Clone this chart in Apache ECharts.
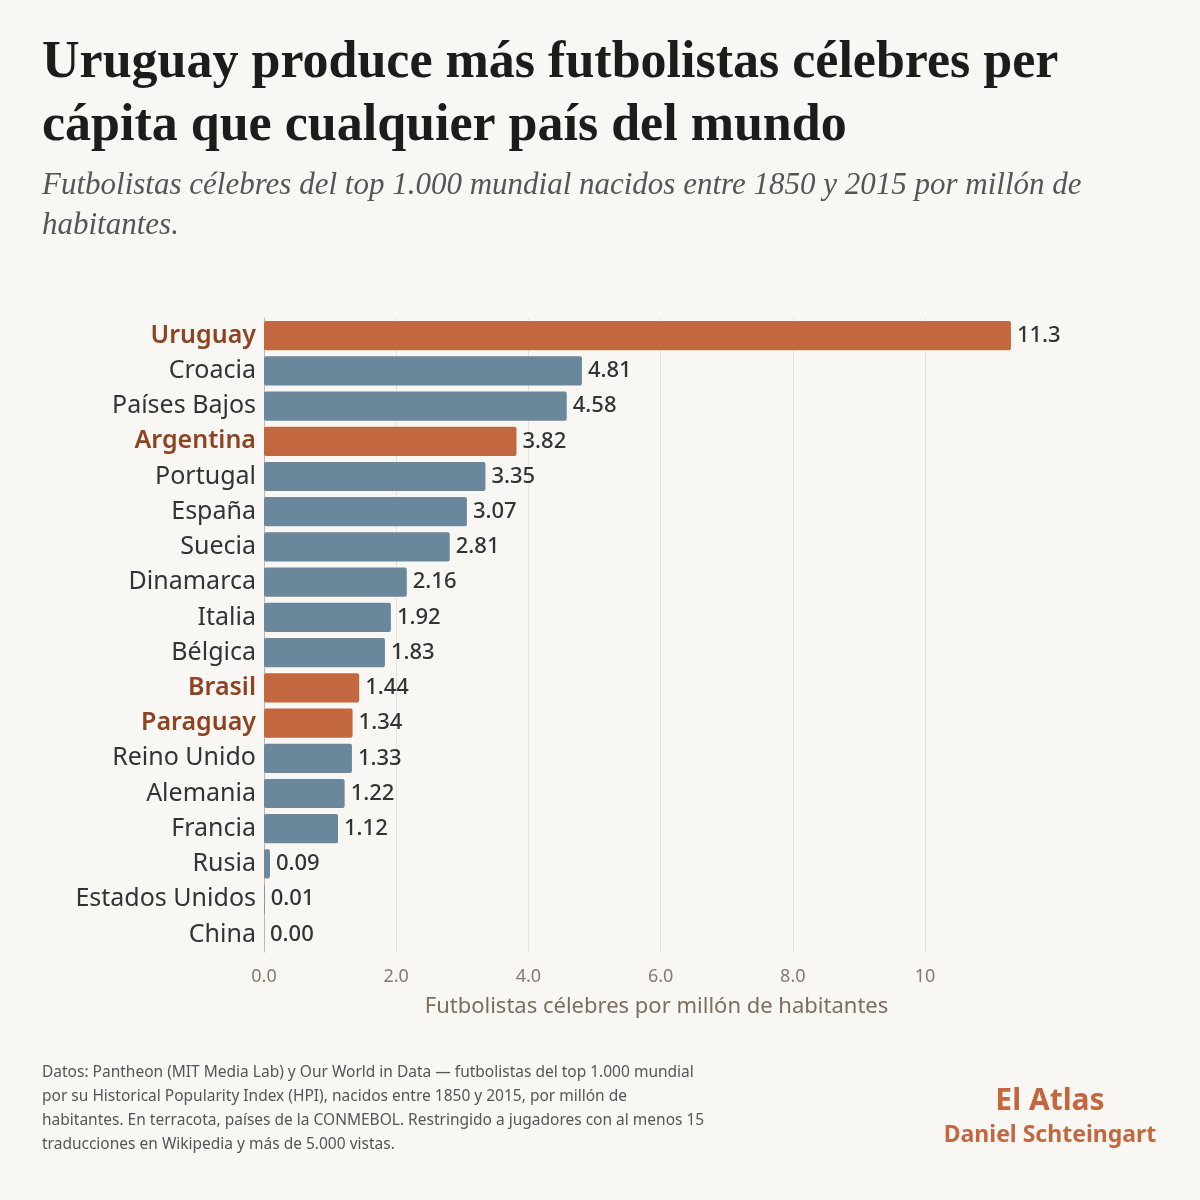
<!DOCTYPE html>
<html>
<head>
<meta charset="utf-8">
<script src="https://cdn.jsdelivr.net/npm/echarts@6/dist/echarts.min.js"></script>
<style>
  html, body { margin: 0; padding: 0; background: #f9f7f3; }
  #main { width: 1200px; height: 1200px; }
</style>
</head>
<body>
<div id="main"></div>
<script>
var countries = ['Uruguay', 'Croacia', 'Países Bajos', 'Argentina', 'Portugal', 'España', 'Suecia', 'Dinamarca', 'Italia',
    'Bélgica', 'Brasil', 'Paraguay', 'Reino Unido', 'Alemania', 'Francia', 'Rusia', 'Estados Unidos', 'China'];
var values = [11.3, 4.81, 4.58, 3.82, 3.35, 3.07, 2.81, 2.16, 1.92, 1.83, 1.44, 1.34, 1.33, 1.22, 1.12, 0.09, 0.01, 0.00];
var valueLabels = ['11.3', '4.81', '4.58', '3.82', '3.35', '3.07', '2.81', '2.16', '1.92', '1.83', '1.44', '1.34', '1.33',
    '1.22', '1.12', '0.09', '0.01', '0.00'];
var conmebol = ['Uruguay', 'Argentina', 'Brasil', 'Paraguay'];

var sans = '"Noto Sans", "Open Sans", sans-serif';
var serif = '"Liberation Serif", "DejaVu Serif", serif';
var terra = '#c2673f';
var blue = '#6a879c';

var myChart = echarts.init(document.getElementById('main'));

var barData = values.map(function (v, i) {
    return {
        value: v,
        itemStyle: { color: conmebol.indexOf(countries[i]) >= 0 ? terra : blue }
    };
});

var option = {
    backgroundColor: '#f9f7f3',
    animation: false,
    title: [
        {
            text: 'Uruguay produce más futbolistas célebres per\ncápita que cualquier país del mundo',
            left: 42,
            top: 32,
            padding: 0,
            textStyle: {
                fontFamily: serif,
                fontWeight: 'bold',
                fontSize: 52,
                lineHeight: 63,
                color: '#1c1c1c'
            }
        },
        {
            text: 'Futbolistas célebres del top 1.000 mundial nacidos entre 1850 y 2015 por millón de\nhabitantes.',
            left: 42,
            top: 166,
            padding: 0,
            textStyle: {
                fontFamily: serif,
                fontStyle: 'italic',
                fontWeight: 'normal',
                fontSize: 31,
                lineHeight: 40,
                color: '#555555'
            }
        },
        {
            text: 'Datos: Pantheon (MIT Media Lab) y Our World in Data — futbolistas del top 1.000 mundial\n' +
                'por su Historical Popularity Index (HPI), nacidos entre 1850 y 2015, por millón de\n' +
                'habitantes. En terracota, países de la CONMEBOL. Restringido a jugadores con al menos 15\n' +
                'traducciones en Wikipedia y más de 5.000 vistas.',
            left: 42,
            top: 1061,
            padding: 0,
            textStyle: {
                fontFamily: sans,
                fontWeight: 'normal',
                fontSize: 15.5,
                lineHeight: 24,
                color: '#555555'
            }
        },
        {
            text: 'El Atlas',
            subtext: 'Daniel Schteingart',
            left: 1050,
            top: 1086,
            padding: 0,
            textAlign: 'center',
            itemGap: 8,
            textStyle: {
                fontFamily: sans,
                fontWeight: 'bold',
                fontSize: 30,
                color: terra
            },
            subtextStyle: {
                fontFamily: sans,
                fontWeight: 'bold',
                fontSize: 23,
                color: terra
            }
        }
    ],
    grid: {
        left: 264,
        right: 275,
        top: 318,
        bottom: 248,
        containLabel: false
    },
    xAxis: {
        type: 'value',
        min: 0,
        max: 10,
        interval: 2,
        name: 'Futbolistas célebres por millón de habitantes',
        nameLocation: 'middle',
        nameGap: 44,
        nameTextStyle: {
            fontFamily: sans,
            fontSize: 22,
            color: '#7a6e63',
            padding: [0, 0, 0, 124]
        },
        axisLine: { show: false },
        axisTick: { show: false },
        axisLabel: {
            fontFamily: sans,
            fontSize: 18,
            color: '#857a70',
            margin: 16,
            formatter: function (v) {
                return v === 10 ? '10' : v.toFixed(1);
            }
        },
        splitLine: {
            show: true,
            lineStyle: { color: '#e6e2db', width: 1 }
        }
    },
    yAxis: {
        type: 'category',
        inverse: true,
        data: countries,
        axisLine: { show: true, lineStyle: { color: '#bdb7ae', width: 1 } },
        axisTick: { show: false },
        axisLabel: {
            margin: 8,
            formatter: function (v) {
                return conmebol.indexOf(v) >= 0 ? '{hl|' + v + '}' : '{n|' + v + '}';
            },
            rich: {
                n: { fontFamily: sans, fontSize: 25, color: '#333333' },
                hl: { fontFamily: sans, fontSize: 25, fontWeight: 600, color: '#8e4322' }
            }
        }
    },
    series: [
        {
            type: 'bar',
            data: barData,
            barCategoryGap: '17%',
            clip: false,
            itemStyle: { borderRadius: 2 },
            label: {
                show: true,
                position: 'right',
                distance: 6,
                fontFamily: sans,
                fontSize: 22,
                fontWeight: 500,
                color: '#333333',
                formatter: function (p) {
                    return valueLabels[p.dataIndex];
                }
            }
        }
    ]
};
myChart.setOption(option);
</script>
</body>
</html>
